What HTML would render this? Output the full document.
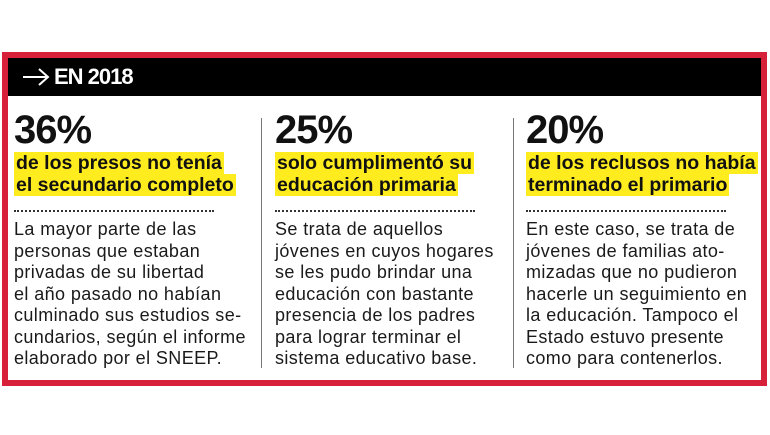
<!DOCTYPE html>
<html><head><meta charset="utf-8"><style>
*{margin:0;padding:0;box-sizing:border-box}
body{width:770px;height:435px;background:#fff;position:relative;overflow:hidden;font-family:"Liberation Sans",sans-serif;color:#111}
.box{position:absolute;left:2px;top:52px;width:765px;height:334px;border:6px solid #d7203a}
.hdr{position:absolute;left:8px;top:58px;width:753px;height:38px;background:#000;color:#fff;font-weight:bold;font-size:22px;letter-spacing:-1px}
.hdr span{position:absolute;left:46px;top:6px}
.hdr svg{position:absolute;left:14px;top:9px}
.col{position:absolute;top:110px;width:235px}
.big{font-size:40px;font-weight:900;line-height:40px;letter-spacing:-1px}
.hl{display:inline;background:#ffec1f;font-weight:bold;font-size:19.5px;line-height:22px;padding:0 2px;box-decoration-break:clone;-webkit-box-decoration-break:clone}
.sub{margin-top:2px;width:240px}
.dots{position:absolute;top:100px;left:0;width:200px;border-top:2px dotted #333}
.txt{position:absolute;top:109px;left:0;font-size:18px;letter-spacing:0.4px;line-height:21.5px;width:250px;white-space:nowrap;color:#1a1a1a}
.sep{position:absolute;top:118px;width:1px;height:250px;background:#777}
</style></head><body>
<div class="box"></div>
<div class="hdr"><svg width="28" height="20" viewBox="0 0 28 20"><path d="M1 10H26M17 2L26 10L17 18" stroke="#fff" stroke-width="2" fill="none"/></svg><span>EN 2018</span></div>
<div class="sep" style="left:261px"></div>
<div class="sep" style="left:513px"></div>
<div class="col" style="left:14px"><div class="big">36%</div><div class="sub"><span class="hl">de los presos no tenía<br>el secundario completo</span></div><div class="dots"></div>
<div class="txt">La mayor parte de las<br>personas que estaban<br>privadas de su libertad<br>el año pasado no habían<br>culminado sus estudios se-<br>cundarios, según el informe<br>elaborado por el SNEEP.</div></div>
<div class="col" style="left:275px"><div class="big">25%</div><div class="sub"><span class="hl">solo cumplimentó su<br>educación primaria</span></div><div class="dots"></div>
<div class="txt">Se trata de aquellos<br>jóvenes en cuyos hogares<br>se les pudo brindar una<br>educación con bastante<br>presencia de los padres<br>para lograr terminar el<br>sistema educativo base.</div></div>
<div class="col" style="left:526px"><div class="big">20%</div><div class="sub"><span class="hl">de los reclusos no había<br>terminado el primario</span></div><div class="dots"></div>
<div class="txt">En este caso, se trata de<br>jóvenes de familias ato-<br>mizadas que no pudieron<br>hacerle un seguimiento en<br>la educación. Tampoco el<br>Estado estuvo presente<br>como para contenerlos.</div></div>
</body></html>
